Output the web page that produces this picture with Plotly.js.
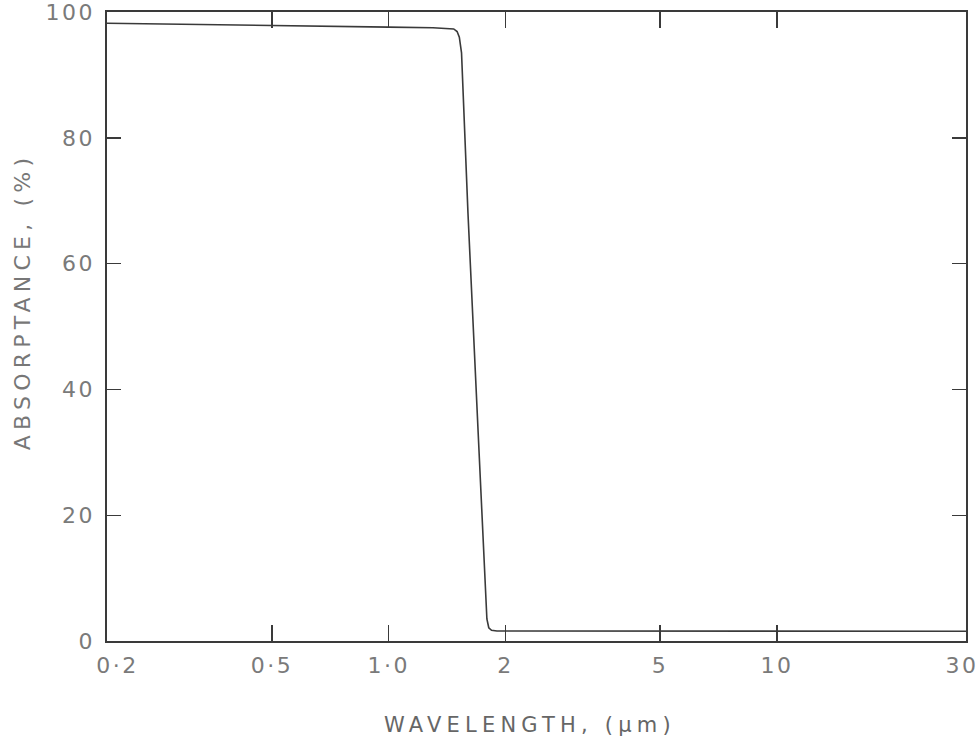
<!DOCTYPE html>
<html>
<head>
<meta charset="utf-8">
<script src="https://cdn.plot.ly/plotly-3.0.1.min.js"></script>
<style>
  html, body { margin: 0; padding: 0; background: #fff; }
  #chart { width: 980px; height: 747px; }
  .annotation-text { letter-spacing: 5.2px; }
  .xtick text, .x2tick text, .ytick text { letter-spacing: 2.5px; }
</style>
</head>
<body>
<div id="chart"></div>
<script>
// Wavelength (µm) and absorptance (%)
const wavelength = [0.188, 0.3, 0.5, 1.0, 1.3, 1.42, 1.47, 1.50, 1.52, 1.54, 1.6, 1.7, 1.77, 1.79, 1.81, 1.84, 1.9, 2, 5, 10, 20, 30.7];
const absorptance = [98.2, 98.0, 97.8, 97.6, 97.5, 97.4, 97.3, 96.9, 96.0, 93.5, 68, 33, 8, 3.5, 2.1, 1.7, 1.6, 1.6, 1.6, 1.6, 1.55, 1.55];

// Axis ticks
const xTickMarks = [0.5, 1, 2, 5, 10];
const xLabelVals = [0.2, 0.5, 1, 2, 5, 10, 30];
const xLabelText = ["0\u00b72", "0\u00b75", "1\u00b70", "2", "5", "10", "30"];
const yTickVals = [0, 20, 40, 60, 80, 100];
const yTickText = ["0", "20", "40", "60", "80", "100"];

const xTitle = "WAVELENGTH, (\u00b5m)";
const yTitle = "ABSORPTANCE, (%)";

const xRange = [Math.log10(0.188), Math.log10(30.7)];
const labelFont = { family: "DejaVu Sans", size: 22, color: "#7a7a7a" };
const axisColor = "#3a3a3a";

const traces = [
  {
    x: wavelength, y: absorptance, type: "scatter", mode: "lines",
    line: { color: "#3a3a3a", width: 1.6 }, hoverinfo: "skip", showlegend: false
  },
  {
    x: wavelength, y: absorptance, xaxis: "x2", type: "scatter", mode: "lines",
    line: { color: "rgba(0,0,0,0)", width: 0 }, hoverinfo: "skip", showlegend: false
  }
];

const layout = {
  width: 980, height: 747,
  margin: { l: 107, r: 14, t: 12, b: 106 },
  paper_bgcolor: "#fff", plot_bgcolor: "#fff",
  showlegend: false,
  xaxis: {
    type: "log", range: xRange,
    tickmode: "array", tickvals: xTickMarks, showticklabels: false,
    ticks: "inside", ticklen: 16, tickwidth: 1.4, tickcolor: axisColor,
    showline: true, linecolor: axisColor, linewidth: 1.6, mirror: "ticks",
    showgrid: false, zeroline: false, fixedrange: true
  },
  xaxis2: {
    type: "log", range: xRange, overlaying: "x", anchor: "y", side: "bottom",
    tickmode: "array", tickvals: xLabelVals, ticktext: xLabelText,
    ticks: "", showline: false, showgrid: false, zeroline: false,
    tickfont: labelFont, ticklabelstandoff: 9, ticklabeloverflow: "allow",
    fixedrange: true
  },
  yaxis: {
    range: [0, 100],
    tickmode: "array", tickvals: yTickVals, ticktext: yTickText,
    ticks: "inside", ticklen: 14, tickwidth: 1.4, tickcolor: axisColor,
    showline: true, linecolor: axisColor, linewidth: 1.6, mirror: "ticks",
    showgrid: false, zeroline: false, tickfont: labelFont,
    ticklabelstandoff: 6, ticklabeloverflow: "allow", fixedrange: true
  },
  annotations: [
    {
      text: xTitle, xref: "paper", yref: "paper", x: 0.493, y: -0.133,
      xanchor: "center", yanchor: "middle", showarrow: false,
      font: { family: "DejaVu Sans", size: 21, color: "#666" }
    },
    {
      text: yTitle, xref: "paper", yref: "paper", x: -0.098, y: 0.54,
      xanchor: "center", yanchor: "middle", showarrow: false, textangle: -90,
      font: { family: "DejaVu Sans", size: 22, color: "#777" }
    }
  ]
};

Plotly.newPlot("chart", traces, layout, { displayModeBar: false, staticPlot: true });
</script>
</body>
</html>
